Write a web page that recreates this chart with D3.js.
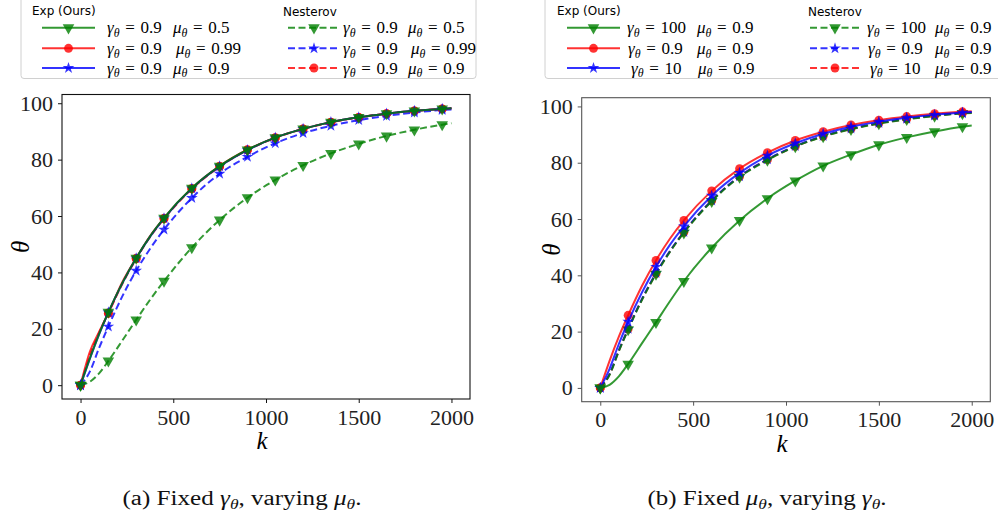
<!DOCTYPE html>
<html>
<head>
<meta charset="utf-8">
<script src="https://cdn.jsdelivr.net/npm/d3@7"></script>
<style>
  body { margin: 0; background: #fff; }
  svg { display: block; }
</style>
</head>
<body>
<div id="chart"></div>
<script>
// iterations k (markers every 150)
var ks = [0, 50, 100, 150, 225, 300, 375, 450, 600, 750, 900, 1050, 1200, 1350, 1500, 1650, 1800, 1950, 2000];

// panel (a): fixed gamma, varying mu
var a_exp_mu05  = [0, 9.5, 18.1, 25.9, 36.2, 45.1, 52.8, 59.3, 69.9, 77.7, 83.5, 87.8, 90.9, 93.3, 95.0, 96.3, 97.3, 98.0, 98.2];
var a_exp_mu099 = [0, 11.8, 18.9, 25.6, 36.5, 45.0, 52.9, 59.2, 69.8, 77.7, 83.5, 87.8, 90.9, 93.3, 95.0, 96.3, 97.3, 98.0, 98.2];
var a_exp_mu09  = [0, 9.3, 18.0, 25.8, 36.1, 45.0, 52.7, 59.2, 69.8, 77.6, 83.4, 87.8, 90.9, 93.3, 95.0, 96.3, 97.3, 98.0, 98.2];
var a_nes_mu05  = [0, 1.2, 4.2, 8.6, 15.8, 23.2, 30.3, 36.9, 48.8, 58.6, 66.5, 72.8, 78.0, 82.2, 85.6, 88.4, 90.6, 92.4, 92.9];
var a_nes_mu099 = [0, 4.8, 13.2, 20.8, 31.5, 40.6, 48.4, 55.2, 66.4, 75.0, 81.0, 85.8, 89.4, 92.0, 94.0, 95.5, 96.7, 97.6, 97.8];
var a_nes_mu09  = [0, 10.5, 18.6, 25.5, 35.9, 44.8, 52.6, 59.0, 69.6, 77.5, 83.4, 87.7, 90.9, 93.2, 95.0, 96.3, 97.3, 98.0, 98.2];

// panel (b): fixed mu, varying gamma
var b_exp_g100 = [0, 1.1, 4.1, 8.5, 15.9, 23.3, 30.8, 37.9, 49.8, 59.5, 67.3, 73.6, 78.9, 82.9, 86.4, 89.0, 91.1, 92.8, 93.2];
var b_exp_g09  = [0, 9.6, 18.2, 25.8, 36.3, 45.3, 53.0, 59.5, 70.0, 77.9, 83.6, 87.9, 91.0, 93.4, 95.1, 96.4, 97.4, 98.1, 98.3];
var b_exp_g10  = [0, 6.8, 15.6, 23.5, 34.0, 43.0, 50.8, 57.4, 68.3, 76.4, 82.5, 86.9, 90.3, 92.8, 94.6, 96.0, 97.0, 97.8, 98.0];
var b_nes_g100 = [0, 4.6, 13.0, 20.7, 31.3, 40.4, 48.3, 55.1, 66.3, 74.9, 80.9, 85.7, 89.3, 91.9, 93.9, 95.4, 96.6, 97.5, 97.7];
var b_nes_g09  = [0, 5.0, 13.4, 21.0, 31.7, 40.8, 48.6, 55.4, 66.6, 75.2, 81.2, 85.9, 89.5, 92.1, 94.1, 95.6, 96.8, 97.6, 97.8];
var b_nes_g10  = [0, 4.8, 13.2, 20.9, 31.5, 40.6, 48.5, 55.3, 66.5, 75.1, 81.1, 85.8, 89.4, 92.0, 94.0, 95.5, 96.7, 97.6, 97.8];

var xTicks = [0, 500, 1000, 1500, 2000];
var yTicks = [0, 20, 40, 60, 80, 100];

// legend labels: [gamma, mu]
var a_exp_labels = [["0.9", "0.5"], ["0.9", "0.99"], ["0.9", "0.9"]];
var a_nes_labels = [["0.9", "0.5"], ["0.9", "0.99"], ["0.9", "0.9"]];
var b_exp_labels = [["100", "0.9"], ["0.9", "0.9"], ["10", "0.9"]];
var b_nes_labels = [["100", "0.9"], ["0.9", "0.9"], ["10", "0.9"]];

var width = 998, height = 516;
var serif = "Liberation Serif, Times New Roman, serif";
var sans = "DejaVu Sans, sans-serif";

var svg = d3.select('#chart').append('svg')
    .attr('width', width)
    .attr('height', height);

var panels = [
  {
    left: 62, right: 470, top: 94.5, bottom: 399, spine: '#111',
    thetaX: 20, caption: ['a', 'γ', 'μ'], capX: 242,
    nes: [ {y: a_nes_mu09, c: 'red', m: 'circle'}, {y: a_nes_mu099, c: 'blue', m: 'star'}, {y: a_nes_mu05, c: 'green', m: 'tri'} ],
    exp: [ {y: a_exp_mu099, c: 'red', m: 'circle'}, {y: a_exp_mu09, c: 'blue', m: 'star'}, {y: a_exp_mu05, c: 'green', m: 'tri'} ],
    legend: {
      x: 21, w: 455, title1X: 32, title2X: 283,
      line1: [42, 95], line2: [288, 340],
      g1: [107, 107, 107], mu1: [173, 176, 173],
      g2: [343, 343, 343], mu2: [408, 411, 408],
      expLab: a_exp_labels, nesLab: a_nes_labels,
      expKeys: [{c: 'green', m: 'tri'}, {c: 'red', m: 'circle'}, {c: 'blue', m: 'star'}],
      nesKeys: [{c: 'green', m: 'tri'}, {c: 'blue', m: 'star'}, {c: 'red', m: 'circle'}]
    }
  },
  {
    left: 581.7, right: 990.3, top: 97.7, bottom: 401.7, spine: '#555',
    thetaX: 551, caption: ['b', 'μ', 'γ'], capX: 767,
    nes: [ {y: b_nes_g10, c: 'red', m: 'circle'}, {y: b_nes_g09, c: 'blue', m: 'star'}, {y: b_nes_g100, c: 'green', m: 'tri'} ],
    exp: [ {y: b_exp_g09, c: 'red', m: 'circle'}, {y: b_exp_g10, c: 'blue', m: 'star'}, {y: b_exp_g100, c: 'green', m: 'tri'} ],
    legend: {
      x: 545, w: 460, title1X: 557, title2X: 808,
      line1: [567, 620], line2: [810, 860],
      g1: [627, 628, 631], mu1: [697, 697, 698],
      g2: [867, 868, 870], mu2: [935, 935, 935],
      expLab: b_exp_labels, nesLab: b_nes_labels,
      expKeys: [{c: 'green', m: 'tri'}, {c: 'red', m: 'circle'}, {c: 'blue', m: 'star'}],
      nesKeys: [{c: 'green', m: 'tri'}, {c: 'blue', m: 'star'}, {c: 'red', m: 'circle'}]
    }
  }
];

var colors = { red: '#ff0000', blue: '#0000ff', green: '#008000' };

function symbolFor(m) {
  if (m == 'circle') return d3.symbol().type(d3.symbolCircle).size(62)();
  if (m == 'star') return d3.symbol().type(d3.symbolStar).size(42)();
  return d3.symbol().type(d3.symbolTriangle).size(58)();
}

function addMarker(g, m, c, x, y) {
  g.append('path')
    .attr('d', symbolFor(m))
    .attr('transform', 'translate(' + x + ',' + y + ')' + (m == 'tri' ? ' rotate(180)' : ''))
    .attr('fill', colors[c])
    .attr('fill-opacity', 0.8);
}

// gamma_theta = v  style math text
function mathPart(g, x, y, sym, val, size) {
  var t = g.append('text')
    .attr('x', x).attr('y', y)
    .attr('font-family', serif)
    .attr('font-size', size)
    .attr('fill', '#000');
  t.append('tspan').attr('font-style', 'italic').text(sym);
  t.append('tspan').attr('font-style', 'italic').attr('font-size', size * 0.7).attr('dy', size * 0.22).text('θ');
  t.append('tspan').attr('dy', -size * 0.22).text('\u2004=\u2004' + val);
  return t;
}

panels.forEach(function(p) {
  var x = d3.scaleLinear().domain([-100, 2100]).range([p.left, p.right]);
  var y = d3.scaleLinear().domain([-4.9, 103.1]).range([p.bottom, p.top]);

  var g = svg.append('g');

  var line = d3.line()
    .x(function(d, i) { return x(ks[i]); })
    .y(function(d) { return y(d); })
    .curve(d3.curveMonotoneX);

  function drawSeries(s, dashed) {
    g.append('path')
      .datum(s.y)
      .attr('d', line)
      .attr('fill', 'none')
      .attr('stroke', colors[s.c])
      .attr('stroke-opacity', 0.8)
      .attr('stroke-width', 2)
      .attr('stroke-dasharray', dashed ? '7,3.5' : null);
    s.y.forEach(function(v, i) {
      if (ks[i] % 150 === 0) addMarker(g, s.m, s.c, x(ks[i]), y(v));
    });
  }

  p.nes.forEach(function(s) { drawSeries(s, true); });
  p.exp.forEach(function(s) { drawSeries(s, false); });

  // axes frame
  g.append('rect')
    .attr('x', p.left).attr('y', p.top)
    .attr('width', p.right - p.left).attr('height', p.bottom - p.top)
    .attr('fill', 'none').attr('stroke', p.spine).attr('stroke-width', 1.1);

  var xAxis = g.append('g')
    .attr('transform', 'translate(0,' + p.bottom + ')')
    .call(d3.axisBottom(x).tickValues(xTicks).tickSize(4).tickPadding(6).tickFormat(d3.format('d')));
  var yAxis = g.append('g')
    .attr('transform', 'translate(' + p.left + ',0)')
    .call(d3.axisLeft(y).tickValues(yTicks).tickSize(4).tickPadding(5).tickFormat(d3.format('d')));
  [xAxis, yAxis].forEach(function(ax) {
    ax.attr('font-family', serif).attr('font-size', 22);
    ax.select('.domain').remove();
    ax.selectAll('line').attr('stroke', p.spine);
    ax.selectAll('text').attr('fill', '#222');
  });

  // axis labels
  g.append('text')
    .attr('x', (p.left + p.right) / 2 - 4).attr('y', p.bottom + 50)
    .attr('text-anchor', 'middle')
    .attr('font-family', serif).attr('font-style', 'italic').attr('font-size', 25)
    .text('k');
  g.append('text')
    .attr('transform', 'translate(' + p.thetaX + ',' + ((p.top + p.bottom) / 2) + ') rotate(-90)')
    .attr('text-anchor', 'middle')
    .attr('dy', '0.35em')
    .attr('font-family', serif).attr('font-style', 'italic').attr('font-size', 25)
    .text('θ');

  // caption
  var cap = svg.append('text')
    .attr('x', p.capX - 119.5).attr('y', 505)
    .attr('textLength', 239)
    .attr('lengthAdjust', 'spacingAndGlyphs')
    .attr('font-family', serif).attr('font-size', 20)
    .attr('fill', '#111');
  cap.append('tspan').text('(' + p.caption[0] + ') Fixed ');
  cap.append('tspan').attr('font-style', 'italic').text(p.caption[1]);
  cap.append('tspan').attr('font-style', 'italic').attr('font-size', 14).attr('dy', 4).text('θ');
  cap.append('tspan').attr('dy', -4).text(', varying ');
  cap.append('tspan').attr('font-style', 'italic').text(p.caption[2]);
  cap.append('tspan').attr('font-style', 'italic').attr('font-size', 14).attr('dy', 4).text('θ');
  cap.append('tspan').attr('dy', -4).text('.');

  // legend
  var L = p.legend;
  var lg = svg.append('g');
  lg.append('rect')
    .attr('x', L.x).attr('y', -6)
    .attr('width', L.w).attr('height', 84.5)
    .attr('rx', 3)
    .attr('fill', '#fff').attr('fill-opacity', 0.8)
    .attr('stroke', '#d0d0d0').attr('stroke-width', 1);
  lg.append('text').attr('x', L.title1X).attr('y', 14.5)
    .attr('font-family', sans).attr('font-size', 12).text('Exp (Ours)');
  lg.append('text').attr('x', L.title2X).attr('y', 16)
    .attr('font-family', sans).attr('font-size', 12).text('Nesterov');

  var rowY = [27.7, 48.3, 68];
  rowY.forEach(function(ry, i) {
    var ek = L.expKeys[i], nk = L.nesKeys[i];
    lg.append('line')
      .attr('x1', L.line1[0]).attr('x2', L.line1[1]).attr('y1', ry).attr('y2', ry)
      .attr('stroke', colors[ek.c]).attr('stroke-opacity', 0.8).attr('stroke-width', 2);
    addMarker(lg, ek.m, ek.c, (L.line1[0] + L.line1[1]) / 2, ry);
    lg.append('line')
      .attr('x1', L.line2[0]).attr('x2', L.line2[1]).attr('y1', ry).attr('y2', ry)
      .attr('stroke', colors[nk.c]).attr('stroke-opacity', 0.8).attr('stroke-width', 2)
      .attr('stroke-dasharray', '7,3.5');
    addMarker(lg, nk.m, nk.c, (L.line2[0] + L.line2[1]) / 2, ry);

    mathPart(lg, L.g1[i], ry + 5.5, 'γ', L.expLab[i][0], 17);
    mathPart(lg, L.mu1[i], ry + 5.5, 'μ', L.expLab[i][1], 17);
    mathPart(lg, L.g2[i], ry + 5.5, 'γ', L.nesLab[i][0], 17);
    mathPart(lg, L.mu2[i], ry + 5.5, 'μ', L.nesLab[i][1], 17);
  });
});
</script>
</body>
</html>
